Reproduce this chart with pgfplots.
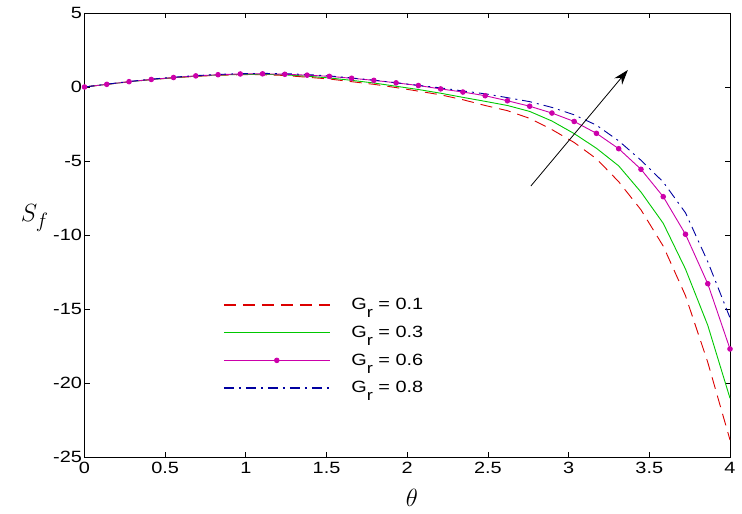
\documentclass[border=0pt]{standalone}
\usepackage{pgfplots}
\pgfplotsset{compat=1.18}
\usepackage{pgfplotstable}
\usepackage{fontspec}
\setmainfont{Liberation Sans}
\newfontfamily\wide[FakeStretch=1.22]{Liberation Sans}
\usetikzlibrary{arrows.meta}
\definecolor{myred}{RGB}{220,0,0}
\definecolor{mygreen}{RGB}{0,200,0}
\definecolor{mymag}{RGB}{204,0,170}
\definecolor{myblue}{RGB}{0,0,160}
\newcommand{\Gr}{G\lower8pt\hbox{\fontsize{15}{15}\selectfont r}}
\pgfplotstableread{
x a b c d
0.0000 0 0 0 0
0.1379 0.18 0.18 0.18 0.19
0.2759 0.35 0.35 0.36 0.37
0.4138 0.50 0.50 0.51 0.53
0.5517 0.62 0.63 0.64 0.66
0.6897 0.72 0.74 0.75 0.77
0.8276 0.79 0.81 0.83 0.85
0.9655 0.83 0.85 0.88 0.90
1.1034 0.83 0.86 0.89 0.92
1.2414 0.78 0.82 0.86 0.90
1.3793 0.66 0.73 0.80 0.84
1.5172 0.54 0.61 0.72 0.75
1.6552 0.36 0.45 0.59 0.61
1.7931 0.18 0.27 0.45 0.46
1.9310 -0.04 0.05 0.28 0.29
2.0690 -0.28 -0.17 0.10 0.11
2.2069 -0.53 -0.42 -0.13 -0.06
2.3448 -0.86 -0.70 -0.34 -0.27
2.4828 -1.25 -0.97 -0.59 -0.46
2.6207 -1.60 -1.25 -0.93 -0.72
2.7586 -2.12 -1.65 -1.30 -0.99
2.8966 -2.88 -2.30 -1.76 -1.38
3.0345 -3.75 -3.15 -2.33 -1.88
3.1724 -4.85 -4.14 -3.13 -2.58
3.3103 -6.40 -5.33 -4.17 -3.64
3.4483 -8.30 -7.10 -5.56 -4.95
3.5862 -10.75 -9.21 -7.41 -6.42
3.7241 -14.10 -12.30 -9.95 -8.50
3.8621 -18.60 -16.10 -13.29 -11.80
4.0000 -23.85 -21.03 -17.70 -15.60
}\datatable
\begin{document}
\begin{tikzpicture}
\begin{axis}[
  scale only axis, width=645.5pt, height=444pt,
  xmin=0, xmax=4, ymin=-25, ymax=5,
  xtick={0,0.5,1,1.5,2,2.5,3,3.5,4},
  ytick={-25,-20,-15,-10,-5,0,5},
  xticklabels={0,0.5,1,1.5,2,2.5,3,3.5,4},
  yticklabels={-25,-20,-15,-10,-5,0,5},
  tick align=inside, major tick length=5pt,
  tick style={black, line width=0.8pt},
  axis line style={line width=0.9pt},
  ticklabel style={font=\wide\fontsize{16.3}{18}\selectfont},
  xticklabel style={yshift=-2pt},
  yticklabel style={xshift=1pt},
  xlabel={$\theta$}, ylabel={$S_f$},
  xlabel style={font=\fontsize{26}{28}\selectfont, at={(axis description cs:0.507,-0.091)}, anchor=center},
  ylabel style={font=\fontsize{32}{34}\selectfont, at={(axis description cs:-0.077,0.538)}, rotate=-90, anchor=center},
  legend style={draw=none, fill=none, at={(axis cs:0.84,-13.68)}, anchor=north west,
    font=\wide\fontsize{16.3}{18}\selectfont, row sep=1pt,
    nodes={inner ysep=6.9pt},
    /tikz/every odd column/.append style={column sep=19pt}},
  legend cell align=left,
]
\addplot[myred, line width=0.9pt, dash pattern=on 12pt off 7pt,
  legend image code/.code={\draw[myred, line width=1.1pt, dash pattern=on 12pt off 7pt] (0pt,0pt) -- (106pt,0pt);}]
  table[x=x,y=a]{\datatable};
\addlegendentry{\Gr\ = 0.1}
\addplot[mygreen, line width=0.9pt,
  legend image code/.code={\draw[mygreen, line width=1.1pt] (0pt,0pt) -- (106pt,0pt);}]
  table[x=x,y=b]{\datatable};
\addlegendentry{\Gr\ = 0.3}
\addplot[mymag, line width=0.9pt, mark=*, mark size=2.3pt, mark options={solid, fill=mymag, draw=mymag},
  legend image code/.code={\draw[mymag, line width=1.1pt] (0pt,0pt) -- (106pt,0pt); \fill[mymag] (53pt,0pt) circle[radius=2.3pt];}]
  table[x=x,y=c]{\datatable};
\addlegendentry{\Gr\ = 0.6}
\addplot[myblue, line width=0.9pt, dash pattern=on 10pt off 5pt on 2pt off 5pt,
  legend image code/.code={\draw[myblue, line width=1.1pt, dash pattern=on 10pt off 5pt on 2pt off 5pt] (0pt,0pt) -- (106pt,0pt);}]
  table[x=x,y=d]{\datatable};
\addlegendentry{\Gr\ = 0.8}
\draw[-{Stealth[length=15pt,width=10pt]}, line width=0.8pt] (axis cs:2.766,-6.69) -- (axis cs:3.367,1.15);
\end{axis}
\pgfresetboundingbox
\path ([shift={(-84.5pt,-56pt)}]current axis.south west) rectangle ([shift={(12pt,13pt)}]current axis.north east);
\end{tikzpicture}
\end{document}
